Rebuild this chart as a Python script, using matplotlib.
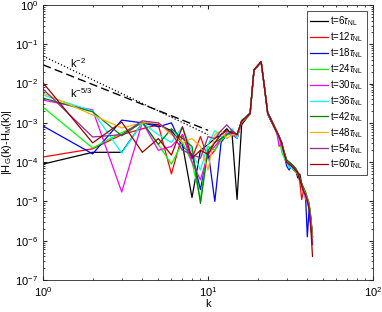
import numpy as np
import matplotlib
matplotlib.use('Agg')
import matplotlib.pyplot as plt
from matplotlib.ticker import NullFormatter

plt.rcParams['font.family'] = ['Liberation Sans', 'DejaVu Sans']
plt.rcParams['mathtext.fontset'] = 'custom'
plt.rcParams['mathtext.rm'] = 'Liberation Sans'
plt.rcParams['mathtext.it'] = 'Liberation Sans:italic'

# wavenumbers 1..43
k = np.arange(1, 44)

# log10 |H_G(k)-H_M(k)|, one list per time
t6 = [-4.05, -3.75, -3.75, -3.0, -3.05, -3.2, -3.55, -4.9, -3.7, -3.55, -3.4, -3.3, -3.15, -3.3, -4.95, -3.05, -2.9, -2.78,
      -1.66, -1.56, -1.45, -2.1, -2.75,
      -2.9, -3.05, -3.2, -3.35, -3.55, -3.75, -3.95, -4.0, -4.05, -4.1, -4.2, -4.4, -4.3, -4.55, -4.7, -4.8, -4.95, -5.1, -5.4, -5.9]
t12 = [-3.87, -3.66, -3.3, -3.15, -3.05, -4.3, -3.3, -3.9, -3.35, -3.9, -3.7, -3.4, -3.3, -3.25, -3.35, -3.0, -2.88, -2.76,
       -1.65, -1.55, -1.45, -2.1, -2.76,
       -2.92, -3.1, -3.22, -3.38, -3.5, -3.8, -4.0, -4.05, -4.1, -4.2, -4.25, -4.3, -4.5, -4.95, -4.7, -4.85, -5.0, -5.15, -5.6, -6.1]
t18 = [-3.08, -3.79, -2.93, -3.0, -3.1, -3.0, -3.6, -3.8, -4.7, -3.7, -5.0, -3.5, -3.3, -3.2, -3.4, -2.95, -2.85, -2.75,
       -1.66, -1.55, -1.46, -2.12, -2.78,
       -2.95, -3.08, -3.25, -3.4, -3.55, -3.85, -4.1, -4.2, -4.1, -4.2, -4.2, -4.3, -4.45, -4.6, -4.75, -4.85, -5.9, -5.2, -5.6, -6.0]
t24 = [-2.6, -3.64, -3.25, -3.0, -3.55, -4.05, -3.5, -4.0, -4.95, -3.6, -3.7, -3.45, -3.3, -3.3, -3.3, -2.98, -2.88, -2.77,
       -1.65, -1.55, -1.45, -2.1, -2.74,
       -2.9, -3.1, -3.2, -3.35, -3.75, -3.9, -4.0, -4.05, -4.15, -4.15, -4.25, -4.3, -4.45, -4.6, -4.7, -4.8, -4.95, -5.05, -5.4, -5.9]
t30 = [-2.42, -2.67, -4.76, -2.98, -3.7, -3.6, -3.3, -4.0, -4.45, -3.8, -3.6, -3.4, -3.25, -3.3, -3.4, -2.95, -2.86, -2.76,
       -1.65, -1.55, -1.45, -2.1, -2.75,
       -2.9, -3.05, -3.2, -3.6, -3.5, -3.8, -4.0, -4.1, -4.1, -4.15, -4.2, -4.25, -4.4, -4.55, -4.7, -4.95, -5.0, -5.1, -5.5, -5.8]
t36 = [-2.29, -2.7, -3.77, -3.0, -3.3, -3.5, -3.1, -3.75, -4.2, -3.55, -3.2, -3.35, -3.3, -3.15, -3.4, -2.92, -2.85, -2.75,
       -1.65, -1.55, -1.45, -2.1, -2.75,
       -2.92, -3.08, -3.22, -3.38, -3.55, -3.85, -4.0, -4.15, -4.1, -4.2, -4.2, -4.3, -4.45, -4.6, -4.7, -4.9, -5.0, -5.2, -5.6, -6.0]
t42 = [-2.37, -2.72, -3.33, -2.98, -3.55, -3.15, -3.4, -3.6, -5.05, -3.7, -3.5, -3.4, -3.3, -3.2, -3.3, -2.95, -2.86, -2.75,
       -1.65, -1.55, -1.45, -2.1, -2.74,
       -2.88, -3.05, -3.2, -3.35, -3.5, -3.75, -3.95, -4.0, -4.05, -4.1, -4.15, -4.25, -4.4, -4.55, -4.65, -4.75, -4.9, -5.05, -5.45, -5.9]
t48 = [-2.24, -2.8, -3.13, -3.0, -3.0, -3.3, -3.5, -3.4, -3.6, -4.2, -3.3, -3.2, -3.4, -3.3, -3.3, -2.96, -2.87, -2.77,
       -1.65, -1.55, -1.45, -2.1, -2.75,
       -2.9, -3.08, -3.22, -3.36, -3.55, -3.8, -4.0, -4.05, -4.1, -4.15, -4.2, -4.3, -4.45, -4.6, -4.7, -4.8, -4.95, -5.1, -5.5, -5.95]
t54 = [-2.14, -3.36, -3.3, -2.95, -3.0, -3.25, -3.7, -3.8, -3.9, -3.35, -3.4, -3.2, -3.05, -3.2, -3.3, -2.95, -2.86, -2.76,
       -1.65, -1.55, -1.45, -2.1, -2.75,
       -2.92, -3.06, -3.2, -3.34, -3.52, -3.78, -4.0, -4.05, -4.08, -4.15, -4.22, -4.28, -4.45, -4.6, -4.72, -4.82, -4.98, -5.12, -5.55, -6.05]
t60 = [-1.98, -3.51, -2.98, -3.75, -3.4, -3.82, -3.1, -3.9, -3.7, -3.8, -3.5, -3.3, -3.2, -3.25, -3.3, -2.95, -2.86, -2.75,
       -1.65, -1.54, -1.44, -2.1, -2.75,
       -2.9, -3.08, -3.22, -3.36, -3.55, -3.8, -4.0, -4.05, -4.1, -4.15, -4.2, -4.27, -4.45, -4.6, -4.75, -4.85, -5.0, -5.2, -5.7, -6.4]

series = [t6, t12, t18, t24, t30, t36, t42, t48, t54, t60]
times = [6, 12, 18, 24, 30, 36, 42, 48, 54, 60]
colors = ['#000000', '#ff0000', '#0000ff', '#00ff00', '#ff00ff',
          '#00ffff', '#008000', '#ffb000', '#8e2c9a', '#990000']

# reference slopes
kref = np.array([1, 10])
c2, c53 = 0.05, 0.03

fig = plt.figure(figsize=(3.82, 3.12), dpi=100)
ax = fig.add_axes([0.1126, 0.1026, 0.8638, 0.8814])

for s, t, c in zip(series, times, colors):
    ax.loglog(k, 10.0 ** np.array(s), color=c, lw=0.9, label=r't=%d$\tau_{\rm NL}$' % t)

ax.loglog(kref, c2 * kref ** -2.0, ':', color='k', lw=0.9)
ax.loglog(kref, c53 * kref ** (-5.0 / 3), '--', color='k', lw=1.0, dashes=(6, 3))
ax.text(1.45, 0.034, r'k$^{-2}$', fontsize=8, va='center')
ax.text(1.45, 0.0058, r'k$^{-5/3}$', fontsize=8, va='center')

ax.set_xlim(1, 100)
ax.set_ylim(1e-7, 1)
ax.xaxis.set_minor_formatter(NullFormatter())
ax.yaxis.set_minor_formatter(NullFormatter())
ax.set_xlabel('k', fontsize=8, labelpad=0)
ax.set_ylabel(r'|H$_{\rm G}$(k)-H$_{\rm M}$(k)|', fontsize=8, labelpad=1)
ax.tick_params(which='both', direction='in', top=True, right=True, labelsize=8, color='#262626')
ax.tick_params(which='major', length=3)
ax.tick_params(which='minor', length=1.6)
for sp in ax.spines.values():
    sp.set_color('#262626')
    sp.set_linewidth(0.6)

leg = ax.legend(loc='upper right', fontsize=7, frameon=True, fancybox=False,
                edgecolor='k', handlelength=1.8, handletextpad=0.3,
                labelspacing=0.22, borderpad=0.35, borderaxespad=0.6)
leg.get_frame().set_linewidth(0.6)

fig.savefig('out.png', dpi=100)
